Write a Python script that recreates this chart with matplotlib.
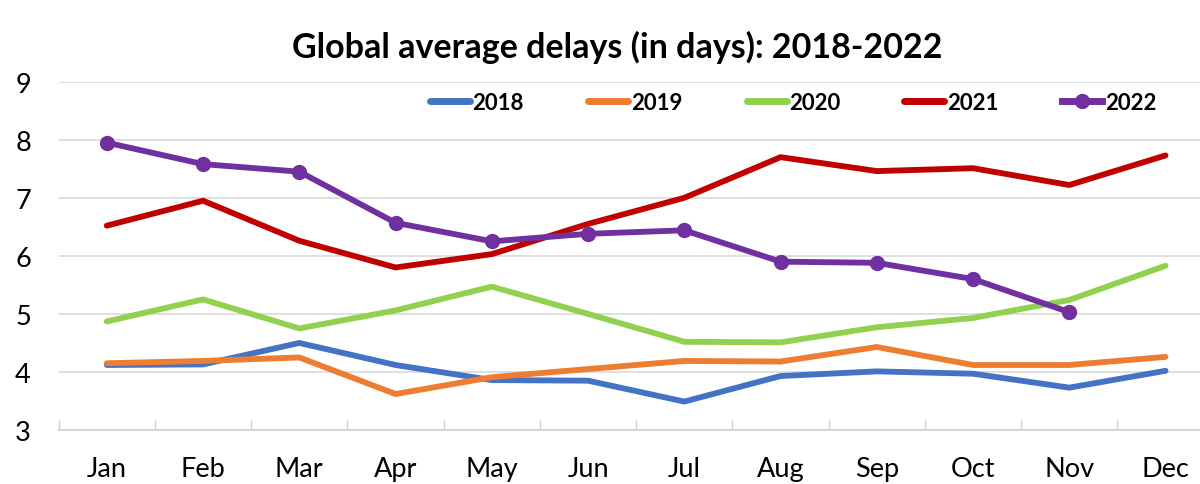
import numpy as np
import matplotlib
matplotlib.use("Agg")
import matplotlib.pyplot as plt
from matplotlib.ticker import FixedLocator

plt.rcParams["font.family"] = ["Lato", "DejaVu Sans"]

MONTHS = ["Jan", "Feb", "Mar", "Apr", "May", "Jun",
          "Jul", "Aug", "Sep", "Oct", "Nov", "Dec"]
y2018 = [4.12, 4.13, 4.50, 4.12, 3.86, 3.85, 3.49, 3.93, 4.01, 3.97, 3.73, 4.02]
y2019 = [4.15, 4.19, 4.25, 3.62, 3.91, 4.05, 4.19, 4.18, 4.43, 4.12, 4.12, 4.26]
y2020 = [4.87, 5.25, 4.75, 5.06, 5.47, 5.00, 4.52, 4.51, 4.77, 4.93, 5.24, 5.83]
y2021 = [6.52, 6.95, 6.26, 5.80, 6.03, 6.55, 7.00, 7.70, 7.46, 7.51, 7.22, 7.73]
y2022 = [7.95, 7.58, 7.45, 6.57, 6.25, 6.38, 6.44, 5.90, 5.88, 5.60, 5.03]

SERIES = [("2018", y2018, "#4472C4"),
          ("2019", y2019, "#ED7D31"),
          ("2020", y2020, "#92D050"),
          ("2021", y2021, "#C00000"),
          ("2022", y2022, "#7030A0")]

fig = plt.figure(figsize=(12, 4.85), dpi=100)
ax = fig.add_axes([0.0489, 0.1113, 0.9625, 0.7182])

x = np.arange(len(MONTHS))
for name, vals, col in SERIES:
    xs = x[:len(vals)]
    if name == "2022":
        ax.plot(xs, vals, color=col, lw=4.2, marker="o", ms=10,
                label=name, solid_joinstyle="round", zorder=3)
    else:
        ax.plot(xs, vals, color=col, lw=4.2, label=name,
                solid_joinstyle="round", solid_capstyle="round", zorder=3)

ax.set_xlim(-0.5, 11.5)
ax.set_ylim(3, 9)
ax.set_yticks(range(3, 10))
ax.set_xticks(x)
ax.set_xticklabels(MONTHS)
ax.xaxis.set_minor_locator(FixedLocator(np.arange(-0.5, 12, 1)))
ax.tick_params(axis="x", which="major", length=0, labelsize=19.5, pad=19)
ax.tick_params(axis="x", which="minor", length=7, direction="in",
               color="#D0D0D0", width=1)
ax.tick_params(axis="y", length=0, labelsize=19.5, pad=20)
ax.grid(axis="y", color="#D9D9D9", lw=1.2)
ax.set_axisbelow(True)
for s in ["top", "right", "left"]:
    ax.spines[s].set_visible(False)
ax.spines["bottom"].set_color("#D0D0D0")
ax.spines["bottom"].set_linewidth(1.2)

fig.text(0.514, 0.903, "Global average delays (in days): 2018-2022",
         ha="center", va="center", fontsize=24.5, fontweight="bold")

leg = fig.legend(loc="center", bbox_to_anchor=(0.661, 0.787), ncol=5,
                 frameon=False, fontsize=16, handlelength=1.8,
                 handletextpad=0.1, columnspacing=2.9)
for t in leg.get_texts():
    t.set_fontweight("bold")
for h in leg.legend_handles:
    h.set_linewidth(5)

fig.savefig("out.png", dpi=100)
